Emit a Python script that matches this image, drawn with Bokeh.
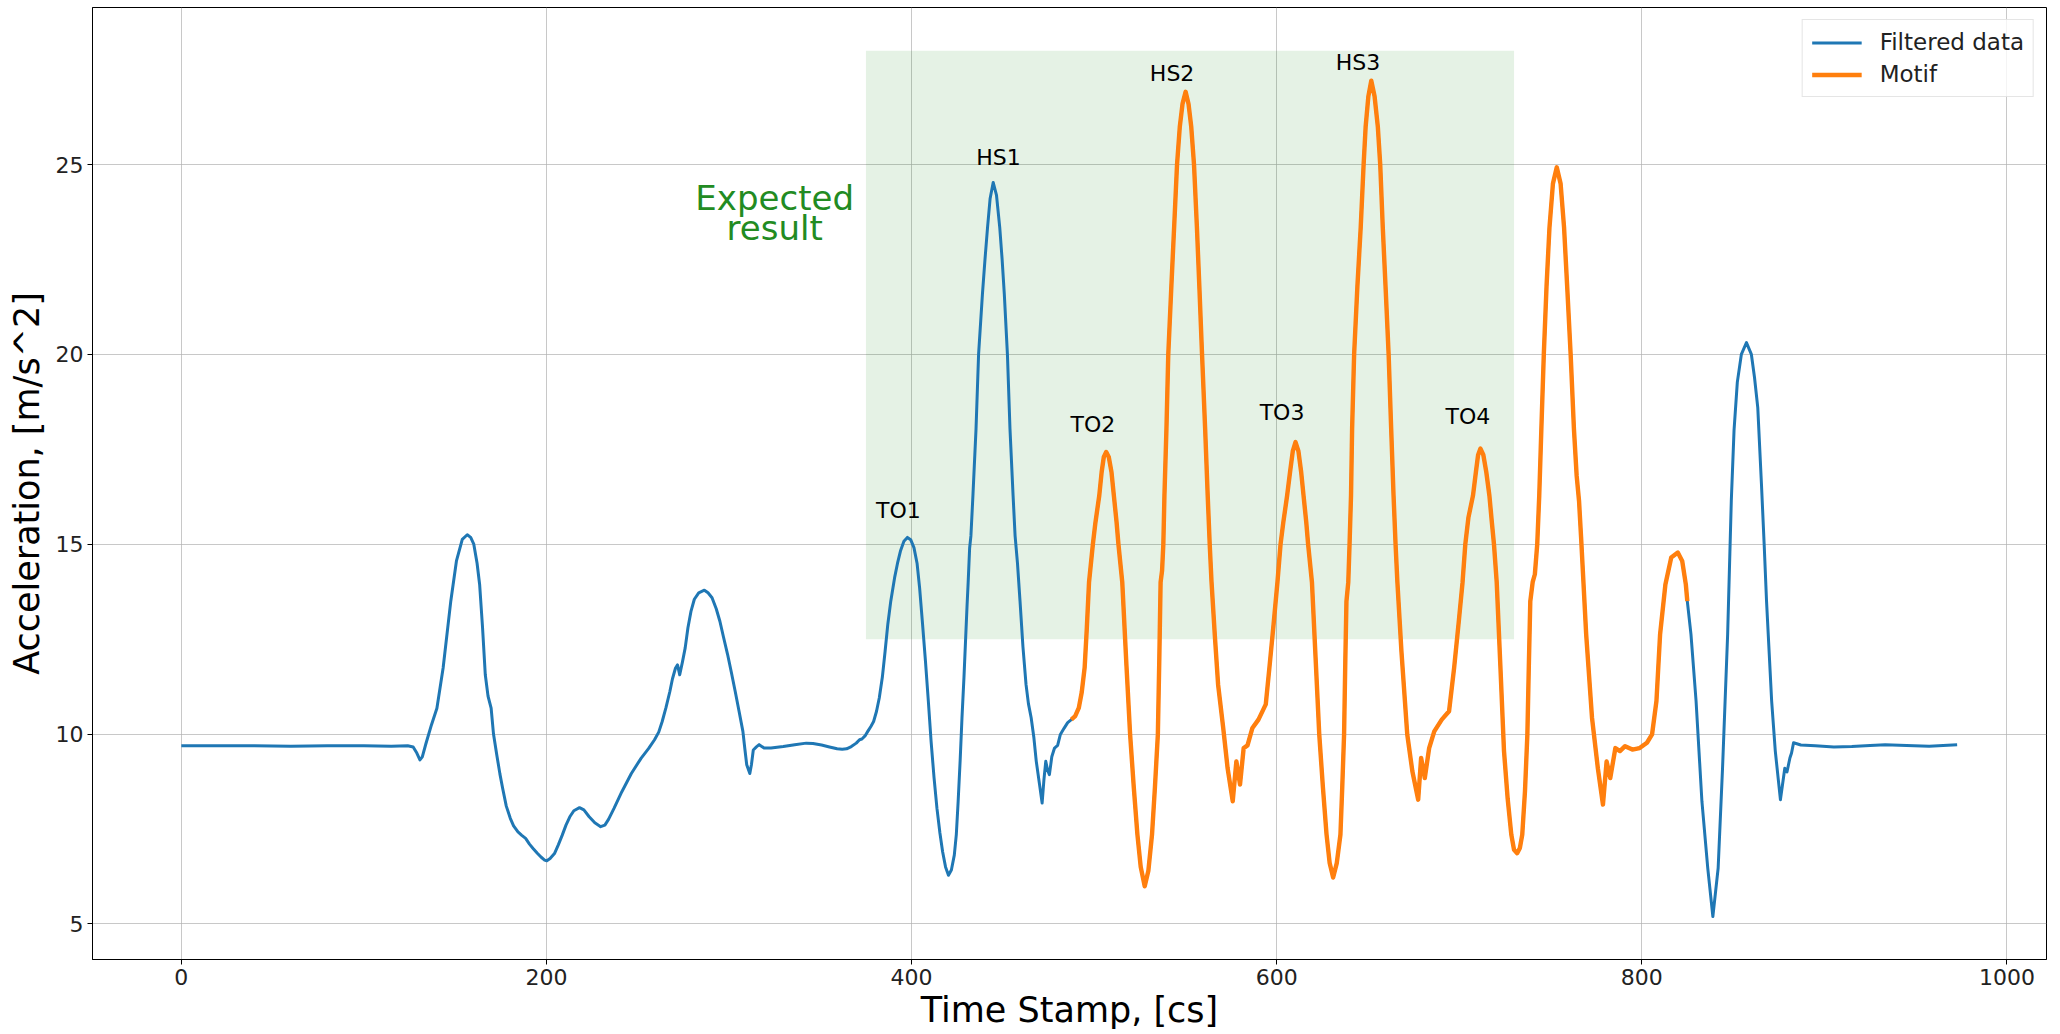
from bokeh.plotting import figure
from bokeh.models import Range1d, Legend, LegendItem, FixedTicker
from bokeh.embed import file_html
from bokeh.resources import INLINE
from bokeh.core.properties import value

# ---------------- data ----------------
time_cs = [
    0, 20, 40, 60, 80, 100, 115, 124, 127, 129,
    130.7, 132, 134, 137, 140, 143.4, 147.6, 150.7, 153.9, 156.6,
    158.5, 160.2, 162, 163.4, 165, 166.5, 168, 169.7, 171, 172.8,
    174.5, 176, 178, 180.2, 182, 184.4, 186.5, 188.6, 190.7, 192.8,
    195, 197, 199, 200.2, 202, 204.4, 206.5, 208.6, 210.7, 212.8,
    215, 218.1, 220.5, 223.4, 226.5, 229.7, 232, 234, 237, 241.3,
    246.5, 251.8, 256, 259.2, 261.5, 263.4, 265.5, 267.6, 269, 270.7,
    271.8, 273, 274.5, 276, 277.5, 279.2, 281, 283.4, 286.5, 288.5,
    290.7, 293, 295, 297, 299.2, 301.3, 303.4, 305.5, 307.6, 308.7,
    309.7, 311.4, 312.3, 313.3, 315, 316.5, 319.2, 323, 329.7, 336,
    342.3, 346, 350.7, 355, 359.2, 362, 364.4, 367, 369.7, 371.5,
    372.8, 374.5, 376, 377.7, 379.2, 380.8, 382.3, 384, 385.5, 387,
    388.6, 390.7, 392.3, 393.9, 395.8, 397.7, 399.5, 401.3, 403, 404.4,
    406, 407.6, 409.2, 410.7, 412.3, 413.9, 415.5, 417, 418.6, 420.2,
    421.8, 423.4, 424.5, 425.5, 426.6, 427.6, 428.7, 429.7, 430.4, 431.0,
    431.8, 432.5, 433.6, 435.3, 436.7, 438.8, 440.2, 441.6, 443.0, 444.7,
    446.5, 448.3, 449.6, 450.8, 452.5, 453.9, 455.6, 456.7, 458.0, 459.4,
    461, 462.7, 464, 465.5, 467, 468.3, 470, 471.5, 472.5, 473.5,
    474.5, 475.5, 476.8, 478.3, 480, 481.5, 483.5, 485.5, 487.5, 489.6,
    491.6, 493.2, 494.8, 496.0, 497.2, 499.3, 500.7, 502.8, 504.1, 505.3,
    506.6, 508, 509.5, 510.8, 512.3, 513.3, 515.4, 517.7, 519.7, 521.7,
    523.7, 525.5, 527.7, 529.7, 531.7, 533.3, 534.9, 535.7, 536.4, 537.2,
    537.9, 538.5, 539.6, 540.6, 542.2, 543.8, 545.4, 546.9, 548.4, 550.1,
    551.7, 553.2, 554.7, 556.3, 557.7, 559.1, 560.8, 562.2, 563.3, 564.3,
    566.1, 567.9, 570.7, 573.1, 575.9, 577.9, 579.9, 581.9, 584, 586.7,
    590, 594, 596, 598.3, 600.4, 602.1, 603.6, 605.7, 607.3, 608.8,
    610.3, 611.9, 613.4, 614.7, 616.2, 617.2, 619.3, 621.3, 623.3, 625.3,
    627.3, 629, 630.9, 632.9, 634.9, 635.9, 636.9, 637.6, 638.2, 639.2,
    639.9, 640.7, 641.3, 642.4, 644.2, 646.0, 647.6, 648.7, 650.2, 651.8,
    653.6, 655.4, 656.7, 658.1, 659.7, 661.3, 662.7, 664.0, 665.1, 666.1,
    668.3, 671.5, 674.3, 677.5, 679.1, 681.1, 683.5, 686.3, 690.4, 694.4,
    697.2, 699.8, 701.8, 703.3, 705, 707.5, 709.1, 710.3, 711.6, 713.2,
    714.8, 716.5, 717.8, 719.0, 720.5, 722.5, 724.5, 726.5, 728.5, 730,
    731.7, 733.2, 734.5, 736, 737.3, 738.1, 738.9, 740.2, 741.4, 742.7,
    743.8, 745, 746.3, 747.8, 749.4, 751.3, 753.4, 755.5, 757.4, 759.2,
    761, 762.8, 764.3, 765.6, 766.7, 769.5, 772.7, 775.9, 778.7, 780.7,
    782.7, 785.5, 788, 790.8, 794.8, 798.8, 802.8, 805.6, 808, 810,
    812.9, 816.1, 819.7, 822.1, 824.1, 824.9, 826.9, 829.7, 832.9, 836.1,
    838.9, 841.8, 844.2, 847, 849, 850.5, 852.3, 854.5, 857.3, 860,
    861.7, 863.5, 865.5, 867, 868.3, 871.1, 873.1, 875.9, 878.3, 879.5,
    881.1, 882, 883.1, 887.1, 895, 905.2, 915, 925, 933.3, 945,
    957.4, 965, 972.7,
]
acceleration = [
    9.69, 9.69, 9.69, 9.68, 9.69, 9.69, 9.68, 9.69, 9.66, 9.50,
    9.32, 9.40, 9.75, 10.24, 10.68, 11.74, 13.5, 14.56, 15.13, 15.25,
    15.18, 15.0, 14.5, 13.94, 12.8, 11.56, 11.0, 10.68, 10.0, 9.45,
    8.95, 8.57, 8.1, 7.78, 7.58, 7.42, 7.33, 7.25, 7.1, 6.98,
    6.86, 6.76, 6.68, 6.66, 6.72, 6.85, 7.08, 7.33, 7.6, 7.82,
    7.98, 8.06, 8.0, 7.82, 7.66, 7.56, 7.6, 7.75, 8.04, 8.48,
    8.96, 9.36, 9.62, 9.85, 10.05, 10.33, 10.7, 11.12, 11.45, 11.74,
    11.82, 11.56, 11.9, 12.27, 12.8, 13.24, 13.55, 13.72, 13.79, 13.72,
    13.59, 13.3, 12.97, 12.55, 12.1, 11.62, 11.12, 10.6, 10.07, 9.6,
    9.19, 8.96, 9.2, 9.58, 9.66, 9.72, 9.63, 9.63, 9.67, 9.72,
    9.76, 9.75, 9.71, 9.66, 9.61, 9.60, 9.61, 9.67, 9.76, 9.85,
    9.87, 9.95, 10.07, 10.2, 10.33, 10.6, 10.95, 11.5, 12.18, 12.9,
    13.5, 14.12, 14.5, 14.82, 15.08, 15.18, 15.12, 14.91, 14.5, 13.85,
    12.9, 11.92, 10.85, 9.8, 8.85, 8.04, 7.4, 6.9, 6.5, 6.28,
    6.42, 6.81, 7.35, 8.22, 9.3, 10.42, 11.5, 12.62, 13.4, 14.0,
    14.9, 15.22, 16.28, 18.04, 20.0, 21.58, 22.5, 23.34, 24.1, 24.53,
    24.2, 23.34, 22.5, 21.58, 20.0, 18.04, 16.28, 15.22, 14.5, 13.5,
    12.3, 11.3, 10.8, 10.43, 9.9, 9.28, 8.7, 8.18, 8.8, 9.28,
    9.05, 8.93, 9.4, 9.63, 9.7, 9.99, 10.15, 10.3, 10.38, 10.47,
    10.69, 11.1, 11.75, 12.8, 14.0, 15.0, 15.57, 16.28, 16.9, 17.3,
    17.43, 17.3, 16.9, 16.28, 15.57, 15.0, 14.0, 11.8, 9.99, 8.6,
    7.35, 6.5, 5.99, 6.4, 7.35, 8.6, 9.99, 12.0, 14.0, 14.3,
    15.0, 16.28, 18.04, 20.0, 21.7, 23.34, 25.0, 25.99, 26.6, 26.92,
    26.6, 25.99, 25.0, 23.34, 21.7, 20.0, 18.04, 16.28, 15.0, 14.0,
    12.6, 11.3, 10.16, 9.1, 8.23, 9.28, 8.67, 9.63, 9.7, 10.16,
    10.38, 10.78, 11.75, 12.9, 14.0, 15.0, 15.57, 16.28, 16.9, 17.45,
    17.69, 17.45, 16.9, 16.28, 15.57, 15.0, 14.0, 12.0, 9.99, 8.6,
    7.35, 6.6, 6.22, 6.6, 7.35, 8.6, 9.99, 12.0, 13.5, 14.0,
    15.0, 16.28, 18.04, 20.0, 21.8, 23.34, 25.0, 25.99, 26.8, 27.21,
    26.8, 25.99, 25.0, 23.34, 21.7, 20.0, 18.04, 16.28, 15.0, 14.0,
    12.19, 9.99, 9.02, 8.27, 9.37, 8.84, 9.63, 10.07, 10.38, 10.6,
    11.75, 13.0, 14.0, 15.0, 15.7, 16.28, 16.9, 17.35, 17.52, 17.35,
    16.9, 16.28, 15.6, 15.0, 14.0, 11.8, 9.55, 8.3, 7.35, 6.95,
    6.86, 7.0, 7.35, 8.5, 9.99, 11.8, 13.5, 14.0, 14.21, 15.0,
    16.28, 18.1, 20.0, 21.8, 23.34, 24.5, 24.93, 24.5, 23.34, 21.7,
    20.0, 18.04, 16.8, 16.14, 15.2, 12.63, 10.43, 9.1, 8.14, 9.28,
    8.84, 9.63, 9.55, 9.68, 9.59, 9.63, 9.77, 9.99, 10.87, 12.63,
    13.94, 14.65, 14.78, 14.56, 13.94, 13.5, 12.63, 10.87, 8.23, 6.47,
    5.19, 6.47, 9.1, 12.63, 16.14, 18.0, 19.27, 20.0, 20.31, 20.0,
    19.4, 18.6, 16.6, 15.0, 13.5, 10.87, 9.55, 8.27, 9.1, 9.0,
    9.37, 9.5, 9.77, 9.71, 9.69, 9.66, 9.67, 9.7, 9.72, 9.7,
    9.68, 9.70, 9.72,
]
assert len(time_cs) == len(acceleration)

motif_start = 487.0
motif_end = 825.0

expected_x = [375, 730]
expected_y = [12.5, 28.0]
expected_text = ["Expected", "result"]
expected_text_x = [325, 325]
expected_text_y = [24.13, 23.34]

event_names = ["TO1", "HS1", "TO2", "HS2", "TO3", "HS3", "TO4"]
event_x = [392.8, 447.6, 499.3, 542.7, 602.9, 644.5, 704.7]
event_y = [15.88, 25.18, 18.15, 27.39, 18.47, 27.70, 18.36]

x_ticks = [0, 200, 400, 600, 800, 1000]
y_ticks = [5, 10, 15, 20, 25]

motif_t = [t for t in time_cs if motif_start <= t <= motif_end]
motif_a = [a for t, a in zip(time_cs, acceleration) if motif_start <= t <= motif_end]

FONT = "DejaVu Sans"

p = figure(width=2051, height=1032, output_backend="svg", toolbar_location=None,
           x_range=Range1d(-48.65, 1021.65), y_range=Range1d(4.06, 29.14),
           min_border_left=92, min_border_right=5, min_border_top=7, min_border_bottom=72)
p.background_fill_color = "white"
p.border_fill_color = "white"
p.outline_line_color = "black"
p.outline_line_width = 1

p.quad(left=[expected_x[0]], right=[expected_x[1]], bottom=[expected_y[0]], top=[expected_y[1]],
       fill_color="green", fill_alpha=0.1, line_color=None)

r_blue = p.line(time_cs, acceleration, line_color="#1f77b4", line_width=3.0, line_join="round")
r_orange = p.line(motif_t, motif_a, line_color="#ff7f0e", line_width=4.4, line_join="round")

p.text(x=expected_text_x, y=expected_text_y, text=expected_text, text_font=value(FONT),
       text_font_size="34px", text_color="forestgreen", text_align="center",
       text_baseline="alphabetic")

p.text(x=event_x, y=event_y, text=event_names, text_font=value(FONT),
       text_font_size="22px", text_color="black", text_align="center",
       text_baseline="alphabetic")

for ax in (p.xaxis[0], p.yaxis[0]):
    ax.major_label_text_font = FONT
    ax.major_label_text_font_size = "22px"
    ax.major_label_text_color = "#222222"
    ax.axis_label_text_font = FONT
    ax.axis_label_text_font_size = "35px"
    ax.axis_label_text_font_style = "normal"
    ax.axis_label_text_color = "black"
    ax.minor_tick_line_color = None
    ax.major_tick_in = 0
    ax.major_tick_out = 5
    ax.major_tick_line_color = "black"
    ax.axis_line_color = "black"
    ax.major_label_standoff = 4

p.xaxis.ticker = FixedTicker(ticks=x_ticks)
p.yaxis.ticker = FixedTicker(ticks=y_ticks)
p.xaxis.axis_label = "Time Stamp, [cs]"
p.yaxis.axis_label = "Acceleration, [m/s^2]"
p.xaxis.axis_label_standoff = 2
p.yaxis.axis_label_standoff = 6

p.grid.grid_line_color = "#b0b0b0"
p.grid.grid_line_alpha = 0.7
p.grid.grid_line_width = 1

legend = Legend(items=[LegendItem(label="Filtered data", renderers=[r_blue]),
                       LegendItem(label="Motif", renderers=[r_orange])],
                location="top_right")
legend.label_text_font = FONT
legend.label_text_font_size = "23px"
legend.label_text_color = "#222222"
legend.glyph_width = 50
legend.glyph_height = 25
legend.label_height = 25
legend.label_standoff = 18
legend.padding = 9
legend.spacing = 6
legend.margin = 12
legend.border_line_color = "#cccccc"
legend.border_line_width = 1
legend.background_fill_color = "white"
legend.background_fill_alpha = 0.8
p.add_layout(legend)

open("out.html", "w").write(file_html(p, INLINE))
